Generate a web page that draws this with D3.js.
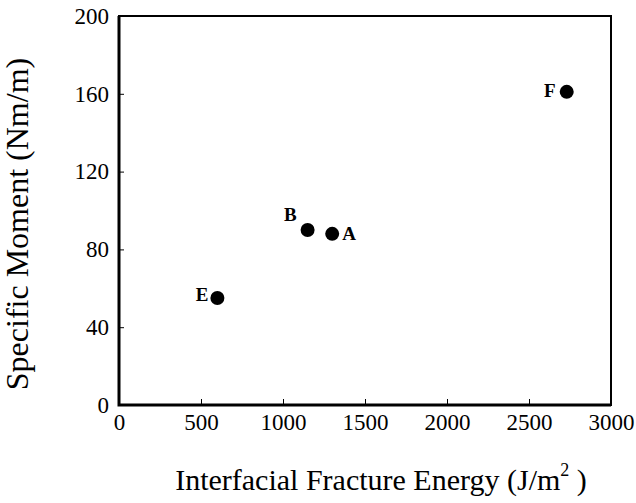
<!DOCTYPE html>
<html>
<head>
<meta charset="utf-8">
<script src="https://cdnjs.cloudflare.com/ajax/libs/d3/7.8.5/d3.min.js"></script>
<style>
  body { margin: 0; background: #fff; }
  text { font-family: "Liberation Serif", "Times New Roman", serif; fill: #000; }
</style>
</head>
<body>
<div id="chart"></div>
<script>
// data
var samples = ["A", "B", "E", "F"];
var fractureEnergy = [1300, 1150, 600, 2730];
var specificMoment = [88, 90, 55, 161];
var xTicks = [0, 500, 1000, 1500, 2000, 2500, 3000];
var yTicks = [0, 40, 80, 120, 160, 200];

var width = 636, height = 503;
var plotL = 119, plotR = 611, plotT = 16, plotB = 405;

var svg = d3.select('#chart').append('svg')
  .attr('width', width).attr('height', height);

var x = d3.scaleLinear().domain([0, 3000]).range([plotL, plotR]);
var y = d3.scaleLinear().domain([0, 200]).range([plotB, plotT]);

// frame
svg.append('rect')
  .attr('x', plotL).attr('y', plotT)
  .attr('width', plotR - plotL).attr('height', plotB - plotT)
  .attr('fill', 'none').attr('stroke', '#000').attr('stroke-width', 2);
svg.append('path')
  .attr('d', 'M' + plotL + ',' + plotT + 'V' + plotB + 'H' + plotR)
  .attr('fill', 'none').attr('stroke', '#000').attr('stroke-width', 3);

// axes with inward ticks
var xAxis = svg.append('g').attr('transform', 'translate(0,' + plotB + ')')
  .call(d3.axisBottom(x).tickValues(xTicks).tickFormat(d3.format('d')).tickSize(-6).tickPadding(10));
var yAxis = svg.append('g').attr('transform', 'translate(' + plotL + ',0)')
  .call(d3.axisLeft(y).tickValues(yTicks).tickFormat(d3.format('d')).tickSize(-5).tickPadding(10));

[xAxis, yAxis].forEach(function (ax) {
  ax.select('.domain').remove();
  ax.selectAll('line').attr('stroke', '#000').attr('stroke-width', 1);
  ax.selectAll('text').style('font-size', '23px').attr('fill', '#000');
});
xAxis.selectAll('.tick').filter(function (d) { return d === 0 || d === 3000; })
  .select('line').remove();
yAxis.selectAll('.tick').filter(function (d) { return d === 0 || d === 200; })
  .select('line').remove();
xAxis.selectAll('text').attr('y', 9).attr('dy', '0.71em');

// points
var pts = samples.map(function (s, i) {
  return { name: s, e: fractureEnergy[i], m: specificMoment[i] };
});
svg.selectAll('circle.pt').data(pts).enter().append('circle')
  .attr('class', 'pt')
  .attr('cx', function (d) { return x(d.e); })
  .attr('cy', function (d) { return y(d.m); })
  .attr('r', 7).attr('fill', '#000');

// labels: offset per point
var labelPos = { A: [10, 6, 'start'], B: [-11, -9, 'end'], E: [-9, 3, 'end'], F: [-11, 5, 'end'] };
svg.selectAll('text.lbl').data(pts).enter().append('text')
  .attr('class', 'lbl')
  .attr('x', function (d) { return x(d.e) + labelPos[d.name][0]; })
  .attr('y', function (d) { return y(d.m) + labelPos[d.name][1]; })
  .attr('text-anchor', function (d) { return labelPos[d.name][2]; })
  .style('font-size', '19px').style('font-weight', 'bold')
  .text(function (d) { return d.name; });

// axis titles
svg.append('text')
  .attr('transform', 'translate(28,224) rotate(-90)')
  .attr('text-anchor', 'middle')
  .style('font-size', '32px')
  .text('Specific Moment (Nm/m)');

var xt = svg.append('text')
  .attr('x', 381).attr('y', 490)
  .attr('text-anchor', 'middle')
  .style('font-size', '30px');
xt.append('tspan').text('Interfacial Fracture Energy (J/m');
xt.append('tspan').attr('dy', -14).style('font-size', '18px').text('2');
xt.append('tspan').attr('dy', 14).text(' )');
</script>
</body>
</html>
